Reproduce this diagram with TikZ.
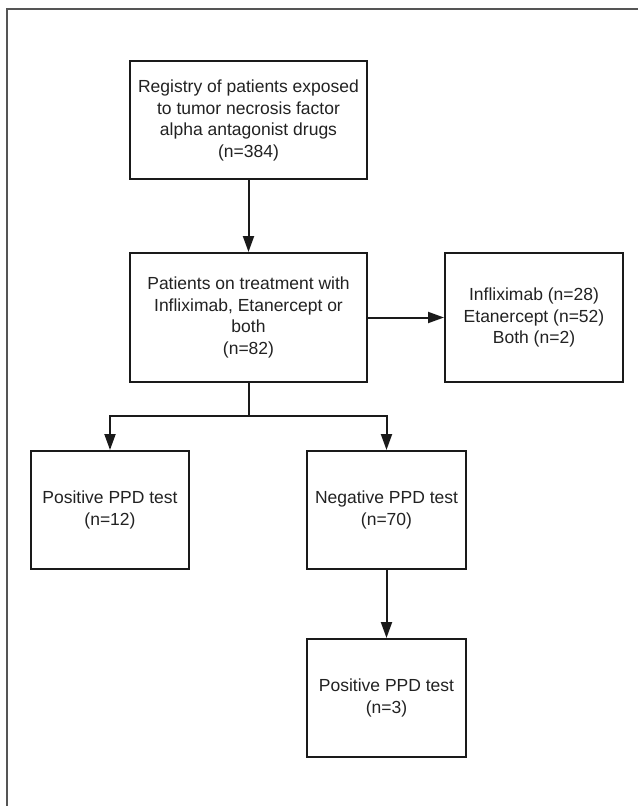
\documentclass[tikz,border=0pt]{standalone}
\usepackage{fontspec}
\setmainfont{Liberation Sans}
\usetikzlibrary{arrows.meta}
\definecolor{boxline}{HTML}{1A1A1A}
\definecolor{frameline}{HTML}{555555}
\definecolor{txt}{HTML}{222222}
\tikzset{
  box/.style={draw=boxline, line width=2pt, rectangle, inner sep=0pt, align=center,
    text=txt, font=\fontsize{17.5}{21.5}\selectfont},
  arr/.style={draw=boxline, line width=2pt, -{Triangle[length=16pt,width=11pt]}},
  conn/.style={draw=boxline, line width=2pt},
}
\begin{document}
\begin{tikzpicture}[x=1pt,y=-1pt]
\useasboundingbox (0,0) rectangle (638,806);
\fill[white] (0,0) rectangle (638,806);
% outer frame (only top and left visible)
\draw[frameline, line width=2pt] (7.3,806) -- (7.3,8.7) -- (638,8.7);

\node[box, minimum width=237pt, minimum height=118pt] (b1) at (248.5,120.3)
  {Registry of patients exposed\\to tumor necrosis factor\\alpha antagonist drugs\\(n=384)};
\node[box, minimum width=237pt, minimum height=129pt] (b2) at (248.5,317.5)
  {Patients on treatment with\\Infliximab, Etanercept or\\both\\(n=82)};
\node[box, minimum width=178pt, minimum height=129pt] (b3) at (534,317.5)
  {Infliximab (n=28)\\Etanercept (n=52)\\Both (n=2)};
\node[box, minimum width=158pt, minimum height=118pt] (b4) at (110,510)
  {Positive PPD test\\(n=12)};
\node[box, minimum width=159pt, minimum height=118pt] (b5) at (386.5,510)
  {Negative PPD test\\(n=70)};
\node[box, minimum width=159pt, minimum height=118pt] (b6) at (386.5,698)
  {Positive PPD test\\(n=3)};

\coordinate (split) at (248.5,416);
\draw[arr] (b1) -- (b2);
\draw[arr] (b2) -- (b3);
\draw[conn] (b2.south) -- (split);
\draw[arr] (split) -| (b4.north);
\draw[arr] (split) -| (b5.north);
\draw[arr] (b5) -- (b6);
\end{tikzpicture}
\end{document}
